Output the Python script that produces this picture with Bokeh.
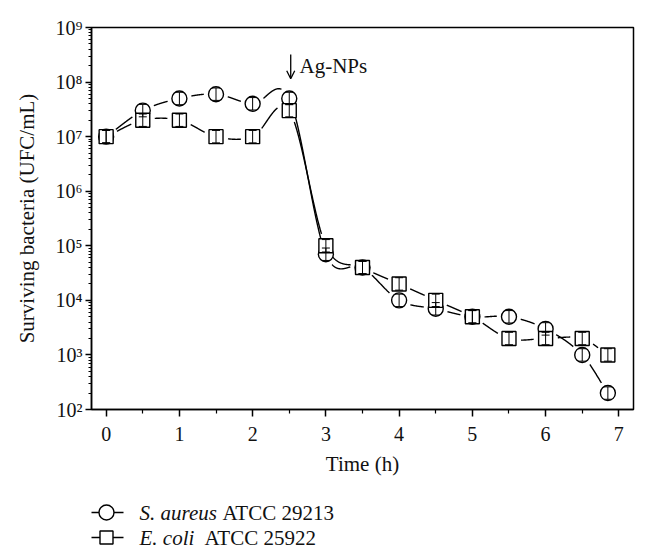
import numpy as np
from bokeh.plotting import figure
from bokeh.models import (FixedTicker, Whisker, TeeHead, ColumnDataSource, Arrow,
                          OpenHead, Label, Range1d)
from bokeh.layouts import column
from bokeh.core.properties import value
from bokeh.embed import file_html
from bokeh.resources import INLINE

# ---------------- data ----------------
time_h = [0, 0.5, 1, 1.5, 2, 2.5, 3, 3.5, 4, 4.5, 5, 5.5, 6, 6.5, 6.85]
s_aureus = [1e7, 3e7, 5e7, 6e7, 4e7, 5e7, 7e4, 4e4, 1e4, 7e3, 5e3, 5e3, 3e3, 1e3, 2e2]
e_coli = [1e7, 2e7, 2e7, 1e7, 1e7, 3e7, 1e5, 4e4, 2e4, 1e4, 5e3, 2e3, 2e3, 2e3, 1e3]
# relative error (fraction of value)
s_aureus_err = [0.3, 0.3, 0.3, 0.3, 0.3, 0.3, 0.3, 0.3, 0.3, 0.3, 0.3, 0.3, 0.3, 0.3, 0.3]
e_coli_err = [0.3, 0.3, 0.3, 0.3, 0.3, 0.3, 0.3, 0.3, 0.3, 0.3, 0.3, 0.3, 0.3, 0.3, 0.3]

x_ticks = [0, 1, 2, 3, 4, 5, 6, 7]
x_minor = [0.5, 1.5, 2.5, 3.5, 4.5, 5.5, 6.5]
y_ticks = [1e2, 1e3, 1e4, 1e5, 1e6, 1e7, 1e8, 1e9]
y_tick_labels = ["10²", "10³", "10⁴", "10⁵", "10⁶", "10⁷", "10⁸", "10⁹"]

series_names = ["S. aureus", "E. coli"]
series_strain = ["ATCC 29213", "ATCC 25922"]

FONT = "Liberation Serif"
TXT = "#111111"

# ---------------- layout (page pixels) ----------------
W = 640
H_MAIN = 480
H_LEG = 72
BL, BR, BT, BB = 91, 7, 27, 71
XR = (-0.2, 7.2)
YR = (1e2, 1e9)

p = figure(width=W, height=H_MAIN, x_range=Range1d(*XR), y_range=Range1d(*YR),
           y_axis_type="log", output_backend="svg", toolbar_location=None,
           min_border_left=BL, min_border_right=BR, min_border_top=BT,
           min_border_bottom=BB)
p.xgrid.visible = False
p.ygrid.visible = False
p.outline_line_color = "black"
p.outline_line_width = 1.5
p.background_fill_color = "white"
p.border_fill_color = "white"

# axes
p.xaxis.ticker = FixedTicker(ticks=x_ticks, minor_ticks=x_minor)
minor_y = [k * 10.0 ** e for e in range(2, 9) for k in range(2, 10)]
p.yaxis.ticker = FixedTicker(ticks=y_ticks, minor_ticks=minor_y)
p.yaxis.major_label_overrides = {t: l for t, l in zip(y_ticks, y_tick_labels)}
for ax in (p.xaxis[0], p.yaxis[0]):
    ax.axis_line_color = "black"
    ax.axis_line_width = 1.5
    ax.major_tick_line_color = "black"
    ax.minor_tick_line_color = "black"
    ax.major_tick_line_width = 1.5
    ax.minor_tick_line_width = 1.2
    ax.major_tick_in = 0
    ax.minor_tick_in = 0
    ax.major_label_text_font = FONT
    ax.axis_label_text_font = FONT
    ax.axis_label_text_font_style = "normal"
    ax.major_label_text_color = TXT
    ax.axis_label_text_color = TXT
p.xaxis.major_tick_out = 7
p.xaxis.minor_tick_out = 4
p.yaxis.major_tick_out = 6
p.yaxis.minor_tick_out = 3
p.xaxis.major_label_text_font_size = "20px"
p.yaxis.major_label_text_font_size = "20px"
p.xaxis.axis_label_text_font_size = "21px"
p.yaxis.axis_label_text_font_size = "21px"
p.xaxis.major_label_standoff = 10
p.yaxis.major_label_standoff = 3
p.xaxis.axis_label_standoff = 8
p.yaxis.axis_label_standoff = 14
p.xaxis.axis_label = "Time (h)"
p.yaxis.axis_label = "Surviving bacteria (UFC/mL)"

# ---------------- spline connecting lines with gaps ----------------
frame_w = W - BL - BR
frame_h = H_MAIN - BT - BB
px_x = frame_w / (XR[1] - XR[0])
px_dec = frame_h / (np.log10(YR[1]) - np.log10(YR[0]))
TRIM = 12.0


def gapped_spline(xs, ys):
    x = np.asarray(xs, float)
    ly = np.log10(np.asarray(ys, float))
    n = len(x)
    m = np.zeros(n)
    for i in range(n):
        if i == 0:
            m[i] = (ly[1] - ly[0]) / (x[1] - x[0])
        elif i == n - 1:
            m[i] = (ly[-1] - ly[-2]) / (x[-1] - x[-2])
        else:
            m[i] = (ly[i + 1] - ly[i - 1]) / (x[i + 1] - x[i - 1])
    out_x, out_y = [], []
    for i in range(n - 1):
        h = x[i + 1] - x[i]
        t = np.linspace(0, 1, 160)
        h00 = 2 * t**3 - 3 * t**2 + 1
        h10 = t**3 - 2 * t**2 + t
        h01 = -2 * t**3 + 3 * t**2
        h11 = t**3 - t**2
        sx = x[i] + h * t
        sy = h00 * ly[i] + h10 * h * m[i] + h01 * ly[i + 1] + h11 * h * m[i + 1]
        d0 = np.hypot((sx - x[i]) * px_x, (sy - ly[i]) * px_dec)
        d1 = np.hypot((sx - x[i + 1]) * px_x, (sy - ly[i + 1]) * px_dec)
        keep = (d0 > TRIM) & (d1 > TRIM)
        if keep.sum() > 1:
            out_x.append(list(sx[keep]))
            out_y.append(list(10 ** sy[keep]))
    return out_x, out_y


for ys in (s_aureus, e_coli):
    lx, lyy = gapped_spline(time_h, ys)
    p.multi_line(lx, lyy, line_color="black", line_width=1.4)

# markers
p.scatter(time_h, s_aureus, marker="circle", size=15, fill_color="white",
          line_color="black", line_width=1.4)
p.scatter(time_h, e_coli, marker="square", size=14, fill_color="white",
          line_color="black", line_width=1.4)

# error bars (drawn over the markers)
for ys, err in ((s_aureus, s_aureus_err), (e_coli, e_coli_err)):
    src = ColumnDataSource(dict(
        x=time_h,
        upper=[v * (1 + e) for v, e in zip(ys, err)],
        lower=[v / (1 + e) for v, e in zip(ys, err)]))
    p.add_layout(Whisker(source=src, base="x", upper="upper", lower="lower",
                         dimension="height", line_color="black", line_width=1.0,
                         level="overlay",
                         upper_head=TeeHead(size=8, line_width=1.0, line_color="black"),
                         lower_head=TeeHead(size=8, line_width=1.0, line_color="black")))

# Ag-NPs annotation
p.add_layout(Arrow(end=OpenHead(size=8, line_width=1.3, line_color="black"),
                   x_start=2.52, y_start=3.2e8, x_end=2.52, y_end=1.15e8,
                   line_color="black", line_width=1.3))
p.add_layout(Label(x=2.64, y=2.0e8, text="Ag-NPs", text_font=FONT,
                   text_font_size="21px", text_baseline="middle",
                   text_color=TXT))

# ---------------- legend strip (x in page pixels, frames aligned) ----------------
leg = figure(width=W, height=H_LEG, x_range=Range1d(BL, W - BR),
             y_range=Range1d(H_MAIN + H_LEG, H_MAIN),
             output_backend="svg", toolbar_location=None, min_border=0)
leg.axis.visible = False
leg.grid.visible = False
leg.outline_line_color = None
leg.background_fill_color = "white"
leg.border_fill_color = "white"
rows_y = [512, 537]
markers = ["circle", "square"]
sizes = [15, 13]
strain_x = [222, 204]
for yy, mk, sz, nm, st, sx in zip(rows_y, markers, sizes, series_names, series_strain, strain_x):
    leg.line([89, 123], [yy, yy], line_color="black", line_width=1.4)
    leg.scatter([106], [yy], marker=mk, size=sz, fill_color="white",
                line_color="black", line_width=1.4)
    leg.text([139], [yy], text=[nm], text_font=value(FONT), text_font_style="italic",
             text_font_size="21px", text_baseline="middle", text_color=TXT)
    leg.text([sx], [yy], text=[st], text_font=value(FONT),
             text_font_size="21px", text_baseline="middle", text_color=TXT)

layout = column(p, leg, spacing=0)
open("out.html", "w").write(file_html(layout, INLINE))
